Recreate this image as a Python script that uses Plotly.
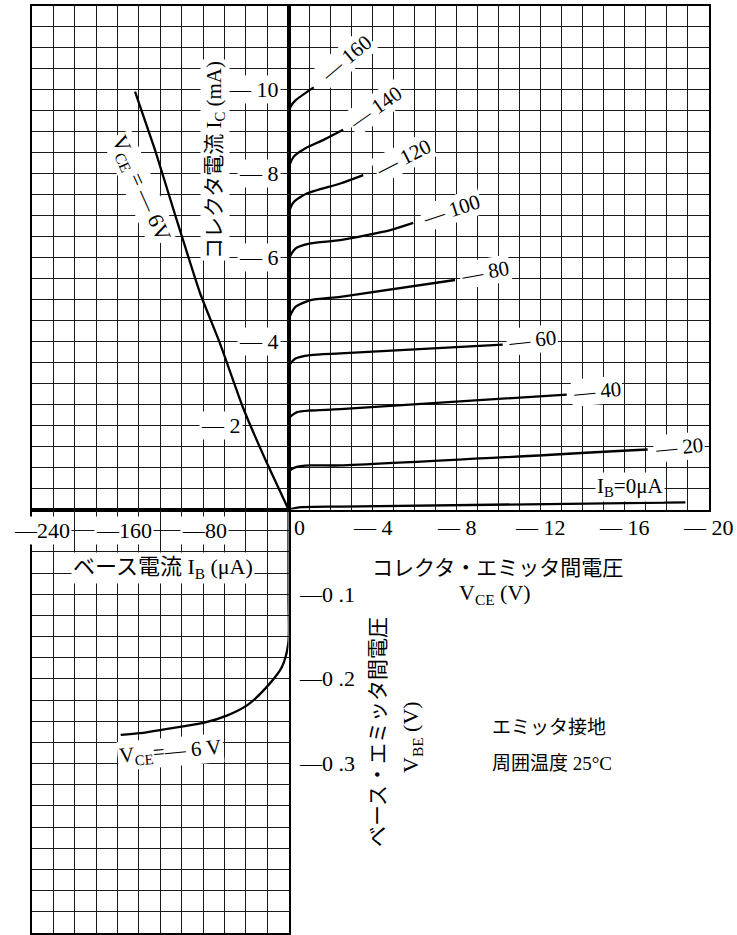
import plotly.graph_objects as go

W, H = 737, 935

# ---- Collector characteristics: VCE (V) vs IC (mA) for each base current IB ----
ib_labels = [0, -20, -40, -60, -80, -100, -120, -140, -160]  # µA

vce_ib0 = [0, -0.6, -2.5, -18.9]
ic_ib0 = [0, -0.055, -0.07, -0.17]

vce_ib20 = [0, 0, -0.36, -1.05, -2.47, -17.1]
ic_ib20 = [0, -0.89, -1.01, -1.05, -1.05, -1.43]

vce_ib40 = [0, 0, -0.41, -1.05, -2.47, -13.25]
ic_ib40 = [0, -2.16, -2.32, -2.36, -2.39, -2.74]

vce_ib60 = [0, 0, -0.33, -1.05, -2.47, -10.2]
ic_ib60 = [0, -3.40, -3.60, -3.68, -3.72, -3.93]

vce_ib80 = [0, 0, -0.33, -1.05, -2.47, -7.93]
ic_ib80 = [0, -4.51, -4.83, -4.99, -5.07, -5.47]

vce_ib100 = [0, 0, -0.33, -1.05, -2.47, -4.85, -5.94]
ic_ib100 = [0, -5.94, -6.22, -6.34, -6.42, -6.66, -6.83]

vce_ib120 = [0, 0, -0.25, -0.87, -2.47, -3.56]
ic_ib120 = [0, -7.02, -7.33, -7.53, -7.77, -7.97]

vce_ib140 = [0, 0, -0.25, -0.81, -1.67, -2.6]
ic_ib140 = [0, -8.09, -8.41, -8.61, -8.81, -9.05]

vce_ib160 = [0, 0, -0.1, -0.33, -1.2]
ic_ib160 = [0, -9.44, -9.60, -9.75, -10.06]

# ---- Transfer characteristic at VCE = -6 V: IB (µA) vs IC (mA) ----
ib_transfer = [0, -20.1, -42.6, -64.1, -82.8, -104.6, -124.9, -143.6]
ic_transfer = [0, -1.10, -2.43, -3.96, -5.16, -6.90, -8.57, -9.96]

# ---- Input characteristic at VCE = -6 V: IB (µA) vs VBE (V) ----
ib_input = [0, 0, -0.2, -6.2, -17.2, -38.5, -57.1, -79.7, -113.5, -138.4, -157]
vbe_input = [0, -0.107, -0.158, -0.186, -0.205, -0.231, -0.243, -0.252, -0.259, -0.264, -0.266]

# ---- Tick labels ----
vce_ticks = [0, -4, -8, -12, -16, -20]
ic_ticks = [-2, -4, -6, -8, -10]
ib_ticks = [-240, -160, -80]
vbe_ticks = [-0.1, -0.2, -0.3]

FONT = "Liberation Serif, Noto Sans CJK JP, serif"
GRID = "#1a1a1a"


def px(x):
    return x / W


def py(y):
    return 1 - y / H


X0, XO, XR = 32, 288.5, 708.5      # left edge, origin, right edge (pixels)
YT, YO, YB = 6, 509.5, 933         # top edge, origin, bottom edge (pixels)

fig = go.Figure()

line_style = dict(color="black", width=2.3)

curves = [
    (vce_ib0, ic_ib0), (vce_ib20, ic_ib20), (vce_ib40, ic_ib40),
    (vce_ib60, ic_ib60), (vce_ib80, ic_ib80), (vce_ib100, ic_ib100),
    (vce_ib120, ic_ib120), (vce_ib140, ic_ib140), (vce_ib160, ic_ib160),
]
for (vx, iy), ib in zip(curves, ib_labels):
    fig.add_trace(go.Scatter(x=vx, y=iy, mode="lines", line=dict(line_style, shape="spline", smoothing=0.6),
                             xaxis="x", yaxis="y", name=f"IB={ib}µA", showlegend=False))

fig.add_trace(go.Scatter(x=ib_transfer, y=ic_transfer, mode="lines",
                         line=dict(line_style, shape="spline", smoothing=0.4),
                         xaxis="x2", yaxis="y2", showlegend=False))

fig.add_trace(go.Scatter(x=ib_input, y=vbe_input, mode="lines",
                         line=dict(line_style, shape="spline", smoothing=0.8),
                         xaxis="x3", yaxis="y3", showlegend=False))


def grid_axis(domain, rng, dtick, anchor, grid=True):
    return dict(domain=domain, range=rng, anchor=anchor, tick0=0, dtick=dtick,
                showgrid=grid, gridcolor=GRID, gridwidth=1, zeroline=False,
                showline=True, mirror=True, linecolor="black", linewidth=2,
                showticklabels=False, ticks="", fixedrange=True)


xd_right = [px(XO), px(XR)]
xd_left = [px(X0), px(XO)]
yd_top = [py(YO), py(YT)]
yd_bot = [py(YB), py(YO)]

fig.update_layout(
    width=W, height=H,
    margin=dict(l=0, r=0, t=0, b=0),
    paper_bgcolor="white", plot_bgcolor="white",
    showlegend=False,
    xaxis=grid_axis(xd_right, [0, -20], 1, "y"),
    yaxis=grid_axis(yd_top, [0, -12], 0.5, "x"),
    xaxis2=grid_axis(xd_left, [-240, 0], 20, "y2"),
    yaxis2=grid_axis(yd_top, [0, -12], 0.5, "x2"),
    xaxis3=grid_axis(xd_left, [-240, 0], 20, "y3"),
    yaxis3=grid_axis(yd_bot, [-0.5, 0], 0.025, "x3"),
    xaxis4=grid_axis(xd_right, [0, -20], 1, "y4", grid=False),
    yaxis4=grid_axis(yd_bot, [-0.5, 0], 0.1, "x4", grid=False),
)

ann = []


def note(text, x, y, size=21, angle=0, xanchor="center", yanchor="middle",
         xref="paper", yref="paper", xshift=0, yshift=0):
    ann.append(dict(text=text, x=x, y=y, xref=xref, yref=yref, showarrow=False,
                    textangle=angle, xanchor=xanchor, yanchor=yanchor,
                    font=dict(family=FONT, size=size, color="black"),
                    bgcolor="white", borderpad=1, xshift=xshift, yshift=yshift))


# VCE tick labels (below the horizontal axis, right half)
for v in vce_ticks:
    if v == 0:
        note("0", v, py(527), size=22, xref="x", xanchor="left", xshift=3)
    else:
        note(f"— {abs(v)}", v, py(527), size=22, xref="x")

# IB tick labels (left half)
ib_label_px = {-240: 42, -160: 124, -80: 204}
for v in ib_ticks:
    note(f"—{abs(v)}", px(ib_label_px[v]), py(530), size=22)

# IC tick labels
for v in ic_ticks:
    xr = 243 if v == -2 else 281
    note(f"— {abs(v)}", px(xr), v, size=22, xanchor="right", yref="y2")

# VBE tick labels
for v in vbe_ticks:
    note(f"—0 .{int(round(abs(v) * 10))}", px(297), v, size=22, xanchor="left", yref="y3")

# Curve labels at the end of each collector curve
label_shift = [(31, 3), (30, 4), (29, 5), (30, 8), (38, 13), (40, 17), (32, 22), (33, 29)]
label_angle = [-5, -5, -6, -10, -18, -27, -35, -40]
for (vx, iy), ib, (sx, sy), ang in zip(curves[1:], ib_labels[1:], label_shift, label_angle):
    note(f"— {abs(ib)}", vx[-1], iy[-1], size=21, angle=ang, xref="x", yref="y",
         xshift=sx, yshift=sy)

note("I<sub>B</sub>=0μA", px(630), py(487), size=21)

# Axis titles and other text
note("コレクタ電流 I<sub>C</sub> (mA)", px(215), py(160), size=21, angle=-90)
note("V<sub>CE</sub> = — 6V", px(140), py(188), size=22, angle=66)
note("ベース電流 I<sub>B</sub> (μA)", px(163), py(568), size=22)
note("V<sub>CE</sub>=— 6 V", px(170), py(752), size=21, angle=-5)
note("コレクタ・エミッタ間電圧", px(497), py(568), size=21)
note("V<sub>CE</sub> (V)", px(495), py(594), size=22)
note("ベース・エミッタ間電圧", px(378), py(732), size=21, angle=-90)
note("V<sub>BE</sub> (V)", px(412), py(737), size=22, angle=-90)
note("エミッタ接地", px(490), py(727), size=19, xanchor="left")
note("周囲温度 25°C", px(490), py(763), size=19, xanchor="left")

fig.update_layout(annotations=ann)

fig.write_html("out.html")
